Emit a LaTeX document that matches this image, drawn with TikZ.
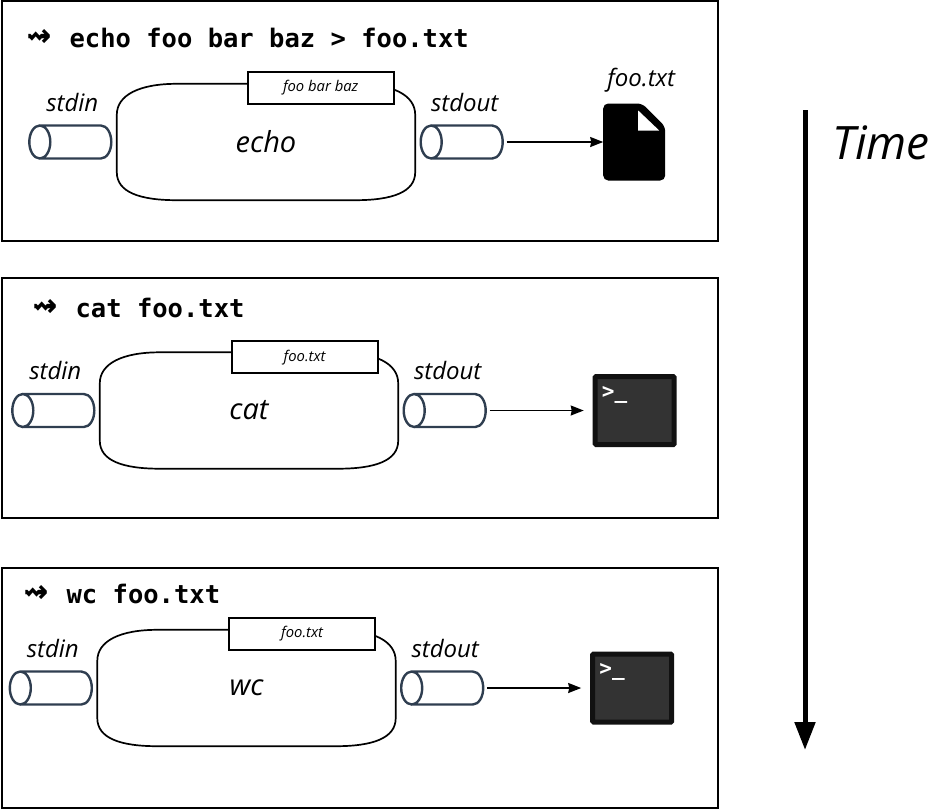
\documentclass[tikz,border=0pt]{standalone}
\usepackage{fontspec}
\setmainfont{Open Sans}
\setmonofont{DejaVu Sans Mono}
\usepackage{tikz}
\usetikzlibrary{arrows.meta, positioning}
\definecolor{pipeblue}{HTML}{2F3E50}
\definecolor{termdark}{HTML}{333333}
\definecolor{termedge}{HTML}{111111}
\newcommand{\bodyoutline}[1]{\draw [line width=1.7pt]
    ([yshift=-31]#1.north west) .. controls +(0,-20) and +(-37,0) .. ([xshift=60]#1.north west)
    -- ([xshift=-60]#1.north east) .. controls +(37,0) and +(0,-20) .. ([yshift=-31]#1.north east)
    -- ([yshift=28]#1.south east) .. controls +(0,20) and +(37,0) .. ([xshift=-60]#1.south east)
    -- ([xshift=60]#1.south west) .. controls +(-37,0) and +(0,20) .. ([yshift=28]#1.south west)
    -- cycle;}
\newcommand{\pipeoutline}[1]{\draw [line width=2.4pt, draw=pipeblue]
    ([xshift=10.5]#1.north west) -- ([xshift=-10.5]#1.north east)
    .. controls +(6,0) and +(0,-9) .. (#1.east)
    .. controls +(0,9) and +(6,0) .. ([xshift=-10.5]#1.south east)
    -- ([xshift=10.5]#1.south west)
    ([xshift=10.5]#1.west) ellipse [x radius=10.5, y radius=16.5];}
\newcommand{\squig}{{\fontsize{40}{25}\selectfont ⇝}}

\begin{document}
\begin{tikzpicture}[x=1pt, y=-1pt]
        \tikzstyle{panel} = [rectangle, minimum width=716pt, minimum height=240pt, line width=1.7pt, draw=black, inner sep=0pt]
        \tikzstyle{cmdline} = [anchor=west, inner sep=0pt, font=\ttfamily\bfseries\fontsize{25.5}{25.5}\selectfont]
        \tikzstyle{hand} = [inner sep=0pt, font=\itshape\fontsize{24}{24}\selectfont]
        \tikzstyle{procbody} = [rectangle, minimum width=298pt, minimum height=116pt, inner sep=0pt, font=\itshape\fontsize{29}{29}\selectfont]
        \tikzstyle{argbox} = [rectangle, anchor=north west, minimum width=146pt, minimum height=32pt, inner sep=0pt, line width=1.7pt, draw=black, fill=white, font=\itshape\fontsize{14.8}{14.8}\selectfont]
        \tikzstyle{pipe} = [rectangle, minimum width=82pt, minimum height=33pt, inner sep=0pt, outer sep=0pt]
        \tikzstyle{term} = [rectangle, minimum width=79pt, minimum height=68pt, inner sep=0pt, rounded corners=1pt, line width=5pt, draw=termedge, fill=termdark]
        \tikzstyle{prompt} = [anchor=north west, inner sep=0pt, text=white, font=\ttfamily\bfseries\fontsize{21}{21}\selectfont]
        \tikzstyle{arrow} = [line width=1.5pt, -{Stealth[length=13pt, width=10pt, inset=1pt]}, shorten <=4pt]

        \useasboundingbox (0,0) rectangle (936,809);

        % first command
        \node (panel1) [panel] at (360,121) {};
        \node (cmd1) [cmdline] at (27,38) {\squig\hspace{3pt} echo foo bar baz > foo.txt};
        \node (echo) [procbody] at (266,142) {echo};
        \bodyoutline{echo}
        \node (arg1) [argbox] at ([xshift=130,yshift=13]echo.north west) {foo bar baz};
        \node (in1) [pipe, left=5.5pt of echo] {};
        \node (out1) [pipe, right=5.5pt of echo] {};
        \pipeoutline{in1}
        \pipeoutline{out1}
        \node (stdin1) [hand, above=14pt of in1, xshift=2pt] {stdin};
        \node (stdout1) [hand, above=14pt of out1, xshift=3pt] {stdout};
        \node (file) [minimum width=62pt, minimum height=77pt, inner sep=0pt, outer sep=0pt, right=100.5pt of out1] {};
        \fill [rounded corners=5pt] (file.south west) -- (file.north west) -- ([xshift=-23]file.north east) -- ([yshift=-23]file.north east) -- (file.south east) -- cycle;
        \fill [white] ([xshift=35,yshift=-7]file.north west) -- ([xshift=35,yshift=-27]file.north west) -- ([xshift=56,yshift=-27]file.north west) -- cycle;
        \node (filename) [hand, above=11pt of file, xshift=7pt] {foo.txt};
        \draw [arrow] (out1) -- (file);

        % second command
        \node (panel2) [panel] at (360,398) {};
        \node (cmd2) [cmdline] at (33,308) {\squig\hspace{3pt} cat foo.txt};
        \node (cat) [procbody] at (249,410.5) {cat};
        \bodyoutline{cat}
        \node (arg2) [argbox] at ([xshift=131,yshift=12]cat.north west) {foo.txt};
        \node (in2) [pipe, left=5.5pt of cat] {};
        \node (out2) [pipe, right=5.5pt of cat] {};
        \pipeoutline{in2}
        \pipeoutline{out2}
        \node (stdin2) [hand, above=14pt of in2, xshift=2pt] {stdin};
        \node (stdout2) [hand, above=14pt of out2, xshift=3pt] {stdout};
        \node (term2) [term, right=107pt of out2] {};
        \node (prompt2) [prompt] at ([xshift=9,yshift=-12]term2.north west) {>\_};
        \draw [arrow, shorten >=9pt] (out2) -- (term2);

        % third command
        \node (panel3) [panel] at (360,688) {};
        \node (cmd3) [cmdline] at (24,594) {\squig\hspace{3pt} wc foo.txt};
        \node (wc) [procbody] at (246.5,688) {wc};
        \bodyoutline{wc}
        \node (arg3) [argbox] at ([xshift=131,yshift=13]wc.north west) {foo.txt};
        \node (in3) [pipe, left=5.5pt of wc] {};
        \node (out3) [pipe, right=5.5pt of wc] {};
        \pipeoutline{in3}
        \pipeoutline{out3}
        \node (stdin3) [hand, above=14pt of in3, xshift=2pt] {stdin};
        \node (stdout3) [hand, above=14pt of out3, xshift=3pt] {stdout};
        \node (term3) [term, right=107pt of out3] {};
        \node (prompt3) [prompt] at ([xshift=9,yshift=-12]term3.north west) {>\_};
        \draw [arrow, shorten >=9pt] (out3) -- (term3);

        % time axis
        \coordinate (timetop) at (805,110);
        \coordinate (timeend) at (805,750);
        \draw [line width=5pt, -{Stealth[length=28pt, width=20pt, inset=0pt]}] (timetop) -- (timeend);
        \node (timelabel) [hand, font=\itshape\fontsize{46}{46}\selectfont] at (881,143) {Time};
    \end{tikzpicture}
\end{document}
